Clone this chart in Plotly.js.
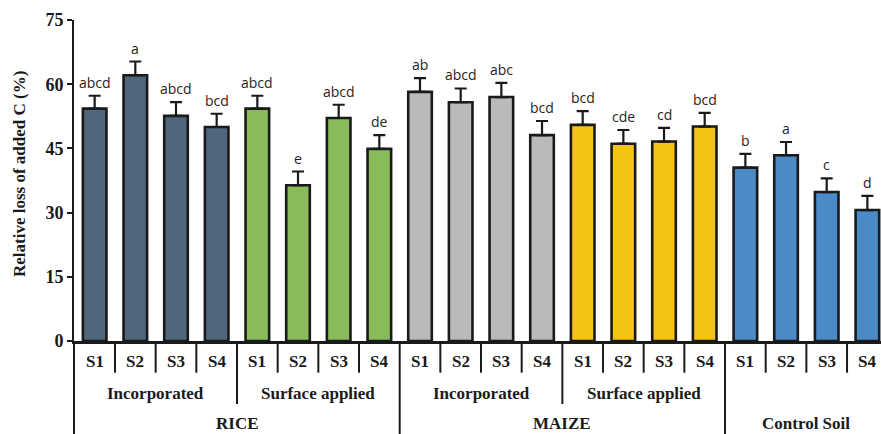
<!DOCTYPE html>
<html>
<head>
<meta charset="utf-8">
<script src="https://cdn.plot.ly/plotly-3.0.1.min.js"></script>
<style>html,body{margin:0;padding:0;background:#fff;}#chart{width:881px;height:434px;}</style>
</head>
<body>
<div id="chart"></div>
<script>
// ---- data ----
const soils = ["S1","S2","S3","S4"];
const groupLabels = ["Incorporated","Surface applied","Incorporated","Surface applied",""];
const mainLabels = ["RICE","MAIZE","Control Soil"];
const values = [54.3, 62.1, 52.6, 50.0, 54.3, 36.4, 52.1, 44.9, 58.2, 55.8, 57.0, 48.1, 50.5, 46.1, 46.6, 50.1, 40.5, 43.4, 34.8, 30.6];
const errors = [3.0, 3.2, 3.2, 3.1, 3.0, 3.2, 3.1, 3.2, 3.2, 3.2, 3.3, 3.3, 3.2, 3.2, 3.2, 3.2, 3.2, 3.1, 3.2, 3.3];
const letters = ["abcd","a","abcd","bcd","abcd","e","abcd","de","ab","abcd","abc","bcd","bcd","cde","cd","bcd","b","a","c","d"];
const groupColors = ["#4F667C","#8ABB5B","#BABABA","#F5C216","#4A8BC7"];

// ---- build ----
const n = values.length;
const xs = values.map((v,i)=>i);
const colors = values.map((v,i)=>groupColors[Math.floor(i/4)]);
const tickText = values.map((v,i)=>soils[i%4]);

const serif = "Liberation Serif, Times New Roman, serif";
const plotH = 321;
const toPaper = px => -px/plotH;

const shapes = [];
const annotations = [];
for (let i = 0; i < n; i++) {
  const b = i + 0.5;
  let depth = 31.7;
  if ((i+1) % 8 === 0) depth = 93;
  else if ((i+1) % 4 === 0) depth = 63;
  shapes.push({type:"line", xref:"x", yref:"paper", x0:b, x1:b, y0:0, y1:toPaper(depth), line:{color:"#1a1a1a", width:2}});
  annotations.push({xref:"x", yref:"paper", x:i, y:toPaper(21), text:"<b>"+tickText[i]+"</b>", showarrow:false, yanchor:"middle", font:{family:serif, size:17, color:"#1a1a1a"}});
  annotations.push({xref:"x", yref:"y", x:i, y:values[i]+errors[i], text:letters[i], showarrow:false, yanchor:"bottom", yshift:2, font:{family:"Open Sans, sans-serif", size:14, color:"#1e1e1e"}});
}
// y axis extension line
shapes.push({type:"line", xref:"paper", yref:"paper", x0:0, x1:0, y0:0, y1:toPaper(93), line:{color:"#1a1a1a", width:2}});
groupLabels.forEach((g,k)=>{
  if (!g) return;
  annotations.push({xref:"x", yref:"paper", x:k*4+1.5, y:toPaper(52), text:"<b>"+g+"</b>", showarrow:false, yanchor:"middle", font:{family:serif, size:17, color:"#1a1a1a"}});
});
const mainCenters = [3.5, 11.5, 17.5];
mainLabels.forEach((m,k)=>{
  annotations.push({xref:"x", yref:"paper", x:mainCenters[k], y:toPaper(82), text:"<b>"+m+"</b>", showarrow:false, yanchor:"middle", borderpad:0, font:{family:serif, size:17, color:"#1a1a1a"}});
});
annotations.push({xref:"paper", yref:"paper", x:(19-74)/807, xanchor:"center", y:(341-174)/plotH, yanchor:"middle", textangle:-90, text:"<b>Relative loss of added C (%)</b>", showarrow:false, font:{family:serif, size:17, color:"#1a1a1a"}});

const trace = {
  type:"bar", x:xs, y:values, width:0.58,
  marker:{color:colors, line:{color:"#1a1a1a", width:2.6}},
  error_y:{type:"data", symmetric:false, array:errors, arrayminus:errors.map(()=>0), color:"#1a1a1a", thickness:2.2, width:6},
  hoverinfo:"none"
};

const layout = {
  width:881, height:434,
  margin:{l:74, r:0, t:20, b:93},
  paper_bgcolor:"#fff", plot_bgcolor:"#fff",
  showlegend:false,
  xaxis:{range:[-0.508, 19.335], showticklabels:false, ticks:"", showgrid:false, zeroline:false, showline:true, linecolor:"#1a1a1a", linewidth:2.5, fixedrange:true},
  yaxis:{range:[0,75], tickvals:[0,15,30,45,60,75], ticktext:["0","15","30","45","60","75"], ticks:"outside", ticklen:5, tickwidth:2, tickcolor:"#1a1a1a", showgrid:false, zeroline:false, showline:true, linecolor:"#1a1a1a", linewidth:2, tickfont:{family:serif, size:18, color:"#1a1a1a", weight:"bold"}, fixedrange:true},
  shapes:shapes,
  annotations:annotations
};
Plotly.newPlot("chart", [trace], layout, {displayModeBar:false, staticPlot:true});
</script>
</body>
</html>
